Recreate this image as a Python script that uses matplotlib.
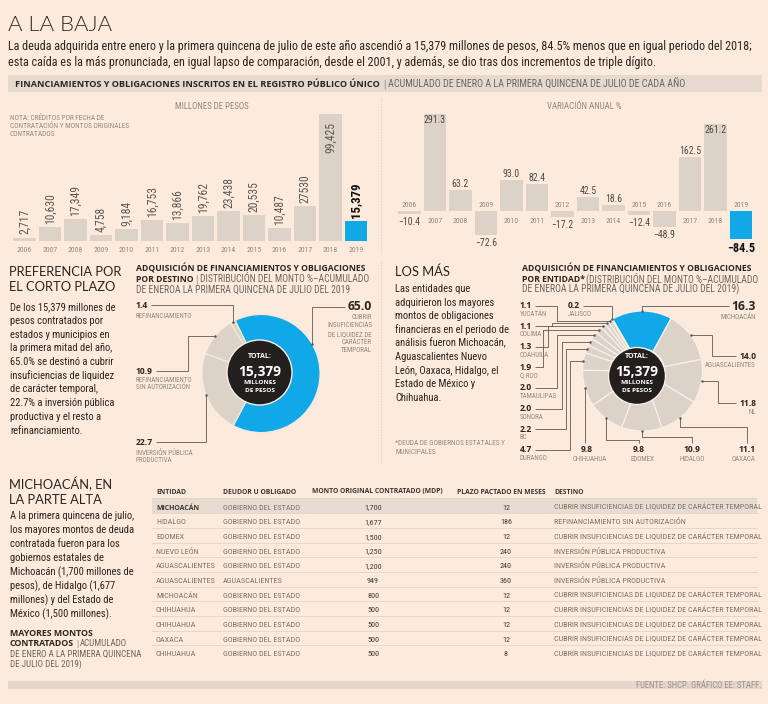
import matplotlib
matplotlib.use('Agg')
import matplotlib.pyplot as plt
from matplotlib import font_manager as fm
from matplotlib.patches import Rectangle, Circle
import numpy as np

# ---------------- data ----------------
years = ['2006', '2007', '2008', '2009', '2010', '2011', '2012', '2013', '2014', '2015', '2016', '2017', '2018', '2019']
monto = [2717, 10630, 17349, 4758, 9184, 16753, 13866, 19762, 23438, 20535, 10487, 27530, 99425, 15379]
monto_labels = ['2,717', '10,630', '17,349', '4,758', '9,184', '16,753', '13,866', '19,762', '23,438',
                '20,535', '10,487', '27530', '99,425', '15,379']
variacion = [-10.4, 291.3, 63.2, -72.6, 93.0, 82.4, -17.2, 42.5, 18.6, -12.4, -48.9, 162.5, 261.2, -84.5]

destino_names = ['CUBRIR INSUFICIENCIAS DE LIQUIDEZ DE CARÁCTER TEMPORAL', 'INVERSIÓN PÚBLICA PRODUCTIVA',
                 'REFINANCIAMIENTO SIN AUTORIZACIÓN', 'REFINANCIAMIENTO']
destino_values = [65.0, 22.7, 10.9, 1.4]

entidades = ['MICHOACÁN', 'AGUASCALIENTES', 'NL', 'OAXACA', 'HIDALGO', 'EDOMEX', 'CHIHUAHUA', 'DURANGO',
             'BC', 'SONORA', 'TAMAULIPAS', 'Q ROO', 'COAHUILA', 'COLIMA', 'YUCATÁN', 'JALISCO']
entidad_values = [16.3, 14.0, 11.8, 11.1, 10.9, 9.8, 9.8, 4.7, 2.2, 2.0, 2.0, 1.9, 1.3, 1.1, 1.1, 0.2]

tabla_entidad = ['MICHOACÁN', 'HIDALGO', 'EDOMEX', 'NUEVO LEÓN', 'AGUASCALIENTES', 'AGUASCALIENTES',
                 'MICHOACÁN', 'CHIHUAHUA', 'CHIHUAHUA', 'OAXACA', 'CHIHUAHUA']
tabla_deudor = ['GOBIERNO DEL ESTADO'] * 5 + ['AGUASCALIENTES'] + ['GOBIERNO DEL ESTADO'] * 5
tabla_monto = [1700, 1677, 1500, 1250, 1200, 949, 800, 500, 500, 500, 500]
tabla_plazo = [12, 186, 12, 240, 240, 360, 12, 12, 12, 12, 8]
CUB = 'CUBRIR INSUFICIENCIAS DE LIQUIDEZ DE CARÁCTER TEMPORAL'
IPP = 'INVERSIÓN PÚBLICA PRODUCTIVA'
tabla_destino = [CUB, 'REFINANCIAMIENTO SIN AUTORIZACIÓN', CUB, IPP, IPP, IPP, CUB, CUB, CUB, CUB, CUB]

# ---------------- setup ----------------
W, H = 768, 704
BGC = '#FCEADC'
DARK = '#2b2521'
GREY = '#6d655f'
LGREY = '#928880'
BAR = '#DDD2C7'
BLUE = '#11A8E7'
BANNER = '#E6D9CD'
LINE = '#5f5751'

fig = plt.figure(figsize=(W / 100, H / 100), dpi=100)
fig.patch.set_facecolor(BGC)
R = fig.canvas.get_renderer()

names = {f.name for f in fm.fontManager.ttflist}


def pick(*c):
    for n in c:
        if n in names:
            return n
    return 'DejaVu Sans'


COND = pick('Liberation Sans Narrow', 'DejaVu Sans Condensed', 'Roboto Condensed', 'Open Sans Condensed',
            'Noto Sans', 'Liberation Sans')
SANS = pick('Lato', 'Open Sans', 'Noto Sans', 'DejaVu Sans')
BOLDF = pick('Open Sans', 'Lato', 'Noto Sans', 'DejaVu Sans')

ST = {}


def style(name, sample, width, family, weight='normal'):
    fam = [family, 'DejaVu Sans']
    size = 10.0
    for _ in range(4):
        t = fig.text(0, 0, sample, fontsize=size, fontfamily=fam, fontweight=weight)
        w = t.get_window_extent(R).width
        t.remove()
        size = size * width / w
    ST[name] = dict(fontfamily=fam, fontweight=weight, fontsize=size)


sub1 = ('La deuda adquirida entre enero y la primera quincena de julio de este año ascendió a 15,379 '
        'millones de pesos, 84.5% menos que en igual periodo del 2018;')
sub2 = ('esta caída es la más pronunciada, en igual lapso de comparación, desde el 2001, y además, '
        'se dio tras dos incrementos de triple dígito.')
banner_b = 'FINANCIAMIENTOS Y OBLIGACIONES INSCRITOS EN EL REGISTRO PÚBLICO ÚNICO'
banner_l = 'ACUMULADO DE ENERO A LA PRIMERA QUINCENA DE JULIO DE CADA AÑO'

style('title', 'A LA BAJA', 104, SANS, 300)
style('sub', sub1, 740, COND)
style('banb', banner_b, 367, BOLDF, 'bold')
style('banl', banner_l, 297, COND)
style('head', 'PREFERENCIA POR', 112, SANS)
style('body', 'De los 15,379 millones de', 107, COND)
style('dtb', 'ADQUISICIÓN DE FINANCIAMIENTOS Y OBLIGACIONES', 230, BOLDF, 'bold')
style('dtl', 'DE ENEROA LA PRIMERA QUINCENA DE JULIO DEL 2019', 211, COND)
style('small', 'REFINANCIAMIENTO', 58, COND)
style('val', '10.9', 17, BOLDF, 'bold')
style('valbig', '65.0', 24, BOLDF, 'bold')
style('chartlab', 'MILLONES DE PESOS', 74, COND)
style('note', 'CONTRATACIÓN Y MONTOS ORIGINALES', 118, COND)
style('year', '2006', 15, COND)
style('barlab', '99,425', 31, COND)
style('barlabb', '15,379', 36, COND, 'bold')
style('varlab', '291.3', 22, COND)
style('varlabb', '−84.5', 28, COND, 'bold')
style('th', 'MONTO ORIGINAL CONTRATADO (MDP)', 133, BOLDF, 'bold')
style('td', 'GOBIERNO DEL ESTADO', 77, COND)
style('tdb', 'MICHOACÁN', 43, BOLDF, 'bold')
style('src', 'FUENTE: SHCP. GRÁFICO EE: STAFF.', 125, COND)
style('mmb', 'MAYORES MONTOS', 83, BOLDF, 'bold')
style('mml', 'DE ENERO A LA PRIMERA QUINCENA', 132, COND)
style('foot', '*DEUDA DE GOBIERNOS ESTATALES Y', 110, COND)
style('tot', 'TOTAL:', 24, BOLDF, 'bold')
style('totn', '15,379', 43, BOLDF, 'bold')
style('totm', 'MILLONES', 33, BOLDF, 'bold')

bg = fig.add_axes([0, 0, 1, 1], zorder=0)
bg.set_xlim(0, W); bg.set_ylim(H, 0); bg.axis('off')
fg = fig.add_axes([0, 0, 1, 1], zorder=10)
fg.set_xlim(0, W); fg.set_ylim(H, 0); fg.axis('off')


def T(x, y, s, st, color=DARK, ha='left', va='baseline', **kw):
    return fg.text(x, y, s, color=color, ha=ha, va=va, **ST[st], **kw)


def rend(t):
    return t.get_window_extent(R).x1


def lend(t):
    return t.get_window_extent(R).x0


def px_axes(x0, y0, x1, y1, z=5):
    a = fig.add_axes([x0 / W, 1 - y1 / H, (x1 - x0) / W, (y1 - y0) / H], zorder=z)
    a.patch.set_alpha(0)
    return a


def path(pts, dot=True):
    xs, ys = zip(*pts)
    fg.plot(xs, ys, color=LINE, lw=0.6, solid_capstyle='butt')
    if dot:
        fg.plot(xs[-1], ys[-1], 'o', color=LINE, ms=1.8, mec='none')


# ---------------- header ----------------
T(8, 31, 'A LA BAJA', 'title')
T(8, 50, sub1, 'sub')
T(8, 66, sub2, 'sub')
bg.add_patch(Rectangle((8, 75), 754, 17, fc=BANNER, ec='none'))
t = T(15, 87, banner_b, 'banb')
t = T(rend(t) + 3, 87.5, '|', 'banl', color=LGREY)
T(rend(t) + 3, 87, banner_l, 'banl', color=GREY)

# dividers
for (x, y0, y1) in [(381, 98, 254), (381, 262, 464)]:
    fg.plot([x, x], [y0, y1], color='#d8cabd', lw=0.5, ls=(0, (2, 2)))

# ---------------- left bar chart ----------------
n = len(years)
idx = np.arange(n)
axL = px_axes(11.75, 100, 368.75, 241)
cols = [BAR] * (n - 1) + [BLUE]
axL.bar(idx, monto, width=0.9, color=cols, linewidth=0)
axL.set_xlim(-0.5, n - 0.5)
axL.set_ylim(0, 110400)
axL.axis('off')
for i, (v, lab) in enumerate(zip(monto, monto_labels)):
    last = i == n - 1
    st = ST['barlabb'] if last else ST['barlab']
    col = '#111111' if last else '#5f5852'
    if v > 60000:
        axL.annotate(lab, (i, v), xytext=(0, -6), textcoords='offset points', rotation=90,
                     rotation_mode='anchor', ha='right', va='center', color=col, annotation_clip=False, **st)
    else:
        axL.annotate(lab, (i, v), xytext=(0, 2.2), textcoords='offset points', rotation=90,
                     rotation_mode='anchor', ha='left', va='center', color=col, annotation_clip=False, **st)
    axL.annotate(years[i], (i, 0), xytext=(0, -8), textcoords='offset points', ha='center',
                 va='baseline', color=LGREY, annotation_clip=False, **ST['year'])
T(212, 109, 'MILLONES DE PESOS', 'chartlab', color=LGREY, ha='center')
for k, s in enumerate(['NOTA: CRÉDITOS POR FECHA DE', 'CONTRATACIÓN Y MONTOS ORIGINALES', 'CONTRATADOS']):
    T(10, 119.5 + 8.3 * k, s, 'note', color=LGREY)

# ---------------- right bar chart ----------------
axR = px_axes(396.75, 100, 753.75, 250)
axR.bar(idx, variacion, width=0.9, color=cols, linewidth=0)
axR.set_xlim(-0.5, n - 0.5)
axR.set_ylim(-117.1, 333.3)
axR.axis('off')
for i, v in enumerate(variacion):
    last = i == n - 1
    lab = f'{v:.1f}'.replace('-', '−')
    st = ST['varlabb'] if last else ST['varlab']
    col = '#111111' if last else '#4f4843'
    if v > 200:
        axR.annotate(lab, (i, v), xytext=(0, -1), textcoords='offset points', ha='center', va='top',
                     color=col, annotation_clip=False, **st)
    elif v >= 0:
        axR.annotate(lab, (i, v), xytext=(0, 2), textcoords='offset points', ha='center', va='baseline',
                     color=col, annotation_clip=False, **st)
    else:
        axR.annotate(lab, (i, v), xytext=(0, -2), textcoords='offset points', ha='center', va='top',
                     color=col, annotation_clip=False, **st)
    if v >= 0:
        axR.annotate(years[i], (i, 0), xytext=(0, -8.5), textcoords='offset points', ha='center',
                     va='baseline', color=LGREY, annotation_clip=False, **ST['year'])
    else:
        axR.annotate(years[i], (i, 0), xytext=(0, 3), textcoords='offset points', ha='center',
                     va='baseline', color=LGREY, annotation_clip=False, **ST['year'])
T(584, 109, 'VARIACIÓN ANUAL %', 'chartlab', color=LGREY, ha='center')


# ---------------- donut helper ----------------
def donut(cx, cy, r_out, r_in, vals, s0, colors, dark_c, dark_r, ec, lw):
    ax = px_axes(cx - r_out - 2, cy - r_out - 2, cx + r_out + 2, cy + r_out + 2, z=6)
    k = r_out / (r_out + 2)
    ax.pie(vals, radius=k, startangle=90 - s0, counterclock=False, colors=colors,
           wedgeprops=dict(width=k * (r_out - r_in) / r_out, edgecolor=ec, linewidth=lw))
    ax.set_xlim(-1, 1); ax.set_ylim(-1, 1); ax.set_aspect('equal')
    sc = 1 / (r_out + 2)
    ax.add_patch(Circle(((dark_c[0] - cx) * sc, -(dark_c[1] - cy) * sc), dark_r * sc, fc='#231F1F',
                        ec='#f7efe8', lw=1.0, zorder=5))
    tot = float(sum(vals))
    cum = np.cumsum([0] + list(vals))
    rims = []
    for i, v in enumerate(vals):
        th = np.radians(s0 + 360 * (cum[i] + v / 2) / tot)
        rims.append((cx + r_out * np.sin(th), cy - r_out * np.cos(th)))
    return rims


def total_text(x, y0):
    T(x, y0, 'TOTAL:', 'tot', color='white', ha='center')
    T(x, y0 + 17, '15,379', 'totn', color='white', ha='center')
    T(x, y0 + 25, 'MILLONES', 'totm', color='white', ha='center')
    T(x, y0 + 33, 'DE PESOS', 'totm', color='white', ha='center')


# ---------------- middle left ----------------
T(9, 276, 'PREFERENCIA POR', 'head')
T(9, 291, 'EL CORTO PLAZO', 'head')
body_l = ['De los 15,379 millones de', 'pesos contratados por', 'estados y municipios en',
          'la primera mitad del año,', '65.0% se destinó a cubrir', 'insuficiencias de liquidez',
          'de carácter temporal,', '22.7% a inversión pública', 'productiva y el resto a', 'refinanciamiento.']
for k, s in enumerate(body_l):
    T(10, 310 + 13.75 * k, s, 'body')

T(136, 271.5, 'ADQUISICIÓN DE FINANCIAMIENTOS Y OBLIGACIONES', 'dtb')
t = T(136, 282, 'POR DESTINO', 'dtb')
t = T(rend(t) + 2, 282.5, '|', 'dtl', color=LGREY)
T(rend(t) + 2, 282, 'DISTRIBUCIÓN DEL MONTO %–ACUMULADO', 'dtl', color=GREY)
T(136, 292.5, 'DE ENEROA LA PRIMERA QUINCENA DE JULIO DEL 2019', 'dtl', color=GREY)

rimsL = donut(261, 373.5, 59, 30, destino_values, -26, [BLUE, BAR, BAR, BAR], (259.5, 372.5), 32.5,
              '#f4ebe2', 0.8)
total_text(260, 358.5)

# 65.0
t = T(372, 310, '65.0', 'valbig', ha='right')
for k, s in enumerate(['CUBRIR', 'INSUFICIENCIAS', 'DE LIQUIDEZ DE', 'CARÁCTER', 'TEMPORAL']):
    T(372, 319 + 8.35 * k, s, 'small', color=LGREY, ha='right')
th = np.radians(60)
rp = (261 + 59 * np.sin(th), 373.5 - 59 * np.cos(th))
path([(lend(t) - 3, 306.5), (rp[0], 306.5), rp])
# 22.7
t = T(136, 445, '22.7', 'val')
T(136, 455, 'INVERSIÓN PÚBLICA', 'small', color=LGREY)
T(136, 462.5, 'PRODUCTIVA', 'small', color=LGREY)
rp = rimsL[1]
path([(rend(t) + 3, 442), (rp[0], 442), rp])
# 10.9
t = T(136, 374, '10.9', 'val')
T(136, 381.5, 'REFINANCIAMIENTO', 'small', color=LGREY)
T(136, 389, 'SIN AUTORIZACIÓN', 'small', color=LGREY)
rp = rimsL[2]
path([(rend(t) + 3, 371), (188, 371), (188, rp[1]), rp])
# 1.4
t = T(136, 308, '1.4', 'val')
T(136, 317.5, 'REFINANCIAMIENTO', 'small', color=LGREY)
rp = rimsL[3]
path([(rend(t) + 3, 304.5), (rp[0], 304.5), rp])

# ---------------- middle right ----------------
T(395, 276, 'LOS MÁS', 'head')
body_r = ['Las entidades que', 'adquirieron los mayores', 'montos de obligaciones',
          'financieras en el periodo de', 'análisis fueron Michoacán,', 'Aguascalientes Nuevo',
          'León, Oaxaca, Hidalgo, el', 'Estado de México y', 'Chihuahua.']
for k, s in enumerate(body_r):
    T(395, 292 + 13.6 * k, s, 'body')
T(395, 445, '*DEUDA DE GOBIERNOS ESTATALES Y', 'foot', color=LGREY)
T(395, 453.5, 'MUNICIPALES', 'foot', color=LGREY)

T(522, 271.5, 'ADQUISICIÓN DE FINANCIAMIENTOS Y OBLIGACIONES', 'dtb')
t = T(522, 282, 'POR ENTIDAD*', 'dtb')
T(rend(t) + 1, 282, '(DISTRIBUCIÓN DEL MONTO %–ACUMULADO', 'dtl', color=GREY)
T(522, 292.5, 'DE ENEROA LA PRIMERA QUINCENA DE JULIO DEL 2019)', 'dtl', color=GREY)

ccolors = [BLUE] + [BAR] * (len(entidad_values) - 1)
rimsR = donut(642.5, 371, 60, 22, entidad_values, -30, ccolors, (637, 376), 28.5, '#f7f0ea', 0.9)
total_text(637, 358.5)

rim = dict(zip(entidades, rimsR))
val = dict(zip(entidades, entidad_values))


def vs(v):
    return f'{v:.1f}'


# left column
left_col = ['YUCATÁN', 'COLIMA', 'COAHUILA', 'Q ROO', 'TAMAULIPAS', 'SONORA', 'BC', 'DURANGO']
xvs = [557, 552, 548, 543, 557, 562, 566, 570]
for k, nm in enumerate(left_col):
    yb = 308 + 20.6 * k
    t = T(520, yb, vs(val[nm]), 'val')
    T(520, yb + 7.8, nm, 'small', color=LGREY)
    rp = rim[nm]
    yl = yb - 2.5
    path([(rend(t) + 3, yl), (xvs[k], yl), (xvs[k], rp[1]), rp])
# jalisco
t = T(568, 308, vs(val['JALISCO']), 'val')
T(568, 315.8, 'JALISCO', 'small', color=LGREY)
rp = rim['JALISCO']
path([(rend(t) + 3, 305.5), (rp[0], 305.5), rp])
# right column
t = T(756, 310, vs(val['MICHOACÁN']), 'valbig', ha='right')
T(756, 319, 'MICHOACÁN', 'small', color=LGREY, ha='right')
rp = rim['MICHOACÁN']
path([(lend(t) - 3, 306), (rp[0], 306), rp])
t = T(756, 359, vs(val['AGUASCALIENTES']), 'val', ha='right')
T(756, 366.7, 'AGUASCALIENTES', 'small', color=LGREY, ha='right')
rp = rim['AGUASCALIENTES']
path([(lend(t) - 3, 355.5), (712, 355.5), (712, rp[1]), rp])
t = T(756, 406.5, vs(val['NL']), 'val', ha='right')
T(756, 414, 'NL', 'small', color=LGREY, ha='right')
rp = rim['NL']
path([(lend(t) - 3, 403), (718, 403), (718, rp[1]), rp])
# bottom row
yb = 452.2
t = T(756, yb, vs(val['OAXACA']), 'val', ha='right')
T(756, yb + 8.5, 'OAXACA', 'small', color=LGREY, ha='right')
rp = rim['OAXACA']
xm = (lend(t) + rend(t)) / 2
path([(xm, yb - 9), (xm, 427), (rp[0], 427), rp])
t = T(692, yb, vs(val['HIDALGO']), 'val', ha='center')
T(692, yb + 8.5, 'HIDALGO', 'small', color=LGREY, ha='center')
rp = rim['HIDALGO']
path([(692, yb - 9), (692, 437), (rp[0], 437), rp])
t = T(639, yb, vs(val['EDOMEX']), 'val', ha='center')
T(642, yb + 8.5, 'EDOMEX', 'small', color=LGREY, ha='center')
rp = rim['EDOMEX']
path([(639, yb - 9), (639, 439.5), (rp[0], 439.5), rp])
t = T(587, yb, vs(val['CHIHUAHUA']), 'val', ha='center')
T(590, yb + 8.5, 'CHIHUAHUA', 'small', color=LGREY, ha='center')
rp = rim['CHIHUAHUA']
path([(rp[0], yb - 9), rp])

# ---------------- bottom: table ----------------
T(9, 489.5, 'MICHOACÁN, EN', 'head')
T(9, 503.5, 'LA PARTE ALTA', 'head')
body_t = ['A la primera quincena de julio,', 'los mayores montos de deuda', 'contratada fueron para los',
          'gobiernos estatales de', 'Michoacán (1,700 millones de', 'pesos), de Hidalgo (1,677',
          'millones) y del Estado de', 'México (1,500 millones).']
for k, s in enumerate(body_t):
    T(10, 519 + 14.1 * k, s, 'body')
T(10, 636, 'MAYORES MONTOS', 'mmb')
t = T(10, 646.5, 'CONTRATADOS', 'mmb')
t = T(rend(t) + 2, 647, '|', 'mml', color=LGREY)
T(rend(t) + 2, 646.5, 'ACUMULADO', 'mml', color=GREY)
T(10, 656.5, 'DE ENERO A LA PRIMERA QUINCENA', 'mml', color=GREY)
T(10, 666.5, 'DE JULIO DEL 2019)', 'mml', color=GREY)

hy = 493.5
T(156, hy, 'ENTIDAD', 'th', color='#3b3430')
T(223, hy, 'DEUDOR U OBLIGADO', 'th', color='#3b3430')
T(312, hy, 'MONTO ORIGINAL CONTRATADO (MDP)', 'th', color='#3b3430')
T(457, hy, 'PLAZO PACTADO EN MESES', 'th', color='#3b3430')
T(554, hy, 'DESTINO', 'th', color='#3b3430')
row0 = 509.5
dy = 14.68
bg.add_patch(Rectangle((152, row0 - 11.2), 605, 14.4, fc='#E8DCD1', ec='none'))
fg.plot([152, 757], [row0 - 11.2, row0 - 11.2], color='#e0d3c7', lw=0.6)
TD = '#7b726b'
for i in range(len(tabla_entidad)):
    y = row0 + dy * i
    if i == 0:
        T(156, y, tabla_entidad[i], 'tdb', color='#3b3430')
    else:
        T(156, y, tabla_entidad[i], 'td', color=TD)
    T(223, y, tabla_deudor[i], 'td', color=TD)
    T(373, y, f'{tabla_monto[i]:,}', 'td', color='#3f3834', ha='center')
    T(506, y, f'{tabla_plazo[i]}', 'td', color='#3f3834', ha='center')
    T(554, y, tabla_destino[i], 'td', color=TD)
    if i < len(tabla_entidad) - 1:
        fg.plot([152, 757], [y + 3.8, y + 3.8], color='#e4d7cb', lw=0.7)

bg.add_patch(Rectangle((8, 680.5), 754, 8, fc='#E3D7CC', ec='none'))
T(762, 687.5, 'FUENTE: SHCP. GRÁFICO EE: STAFF.', 'src', color='#9d938b', ha='right')

fig.savefig('out.png', dpi=100, facecolor=BGC)
